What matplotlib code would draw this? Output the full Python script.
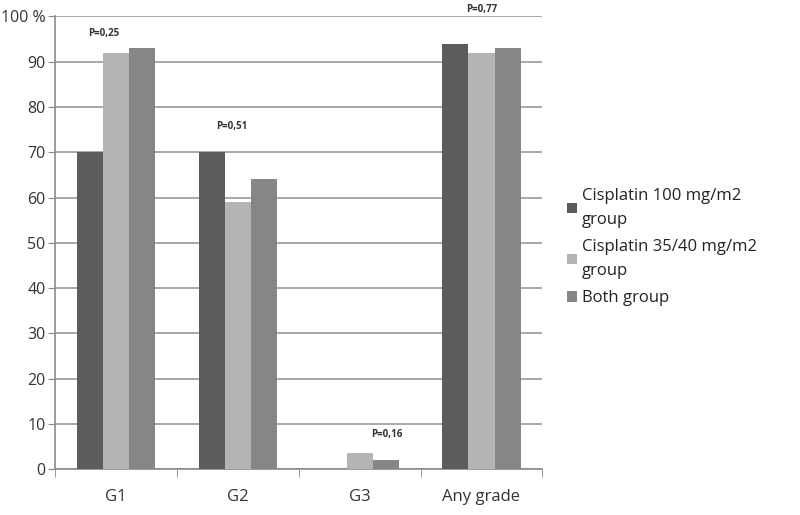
import numpy as np
import matplotlib.pyplot as plt

categories = ['G1', 'G2', 'G3', 'Any grade']
series_names = ['Cisplatin 100 mg/m2\ngroup', 'Cisplatin 35/40 mg/m2\ngroup', 'Both group']
cis100 = [70, 70, 0, 94]
cis35 = [92, 59, 3.5, 92]
both = [93, 64, 2, 93]
p_labels = ['P=0,25', 'P=0,51', 'P=0,16', 'P=0,77']
p_pos = [(-0.1, 95), (-0.05, 74.5), (0.22, 6.5), (0.0, 100.3)]
colors = ['#5c5c5c', '#b4b4b4', '#868686']

plt.rcParams['font.family'] = ['Open Sans', 'DejaVu Sans']

fig = plt.figure(figsize=(8, 5.15), dpi=100)
ax = fig.add_axes([0.069, 0.089, 0.609, 0.879])

x = np.arange(len(categories))
w = 0.215
for i, (vals, name) in enumerate(zip([cis100, cis35, both], series_names)):
    ax.bar(x + (i - 1) * w, vals, w, color=colors[i], label=name, zorder=3)

for i, lab in enumerate(p_labels):
    ax.text(x[i] + p_pos[i][0], p_pos[i][1], lab, fontsize=7, fontweight='bold',
            ha='center', va='bottom', color='#333333')

ax.set_xlim(-0.5, len(categories) - 0.5)
ax.set_ylim(0, 100)
ax.set_yticks(range(0, 101, 10))
ax.set_yticklabels([str(v) for v in range(0, 100, 10)] + ['100 %'])
ax.set_xticks(x)
ax.set_xticklabels(categories)
ax.set_xticks(np.arange(-0.5, len(categories), 1), minor=True)
ax.tick_params(axis='x', which='major', length=0, labelsize=12, pad=14, colors='#333333')
ax.tick_params(axis='x', which='minor', length=6, color='#888888', direction='out')
ax.tick_params(axis='y', length=5, color='#888888', labelsize=11.5, colors='#333333', pad=2)
ax.grid(axis='y', color='#9a9a9a', linewidth=1.2, zorder=0)
for s in ['top', 'right']:
    ax.spines[s].set_visible(False)
for s in ['left', 'bottom']:
    ax.spines[s].set_color('#8a8a8a')
    ax.spines[s].set_linewidth(1.2)

leg = ax.legend(loc='center left', bbox_to_anchor=(1.02, 0.49), frameon=False, fontsize=12,
                handlelength=0.6, handleheight=0.6, handletextpad=0.3, labelspacing=0.7)
for t in leg.get_texts():
    t.set_linespacing(1.6)
    t.set_color('#222222')

fig.savefig('out.png')
